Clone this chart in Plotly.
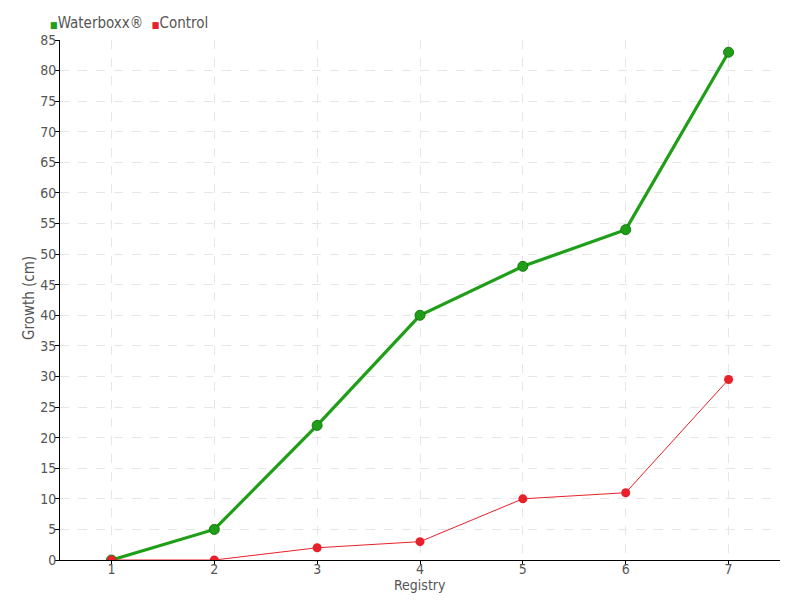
import plotly.graph_objects as go

registry = [1, 2, 3, 4, 5, 6, 7]
waterboxx = [0, 5, 22, 40, 48, 54, 83]
control = [0, 0, 2, 3, 10, 11, 29.5]
y_ticks = list(range(0, 90, 5))
series_names = ["Waterboxx®", "Control"]
x_title = "Registry"
y_title = "Growth (cm)"

GREEN = "#1f9e18"
RED = "#e8202a"
FONT = "Liberation Sans Narrow, DejaVu Sans Condensed, sans-serif"

fig = go.Figure()
fig.add_trace(go.Scatter(
    x=registry, y=waterboxx, mode="lines+markers", name=series_names[0], showlegend=False,
    line=dict(color=GREEN, width=3.2),
    marker=dict(color=GREEN, size=10, line=dict(color="#177a12", width=1)),
))
fig.add_trace(go.Scatter(
    x=registry, y=control, mode="lines+markers", name=series_names[1], showlegend=False,
    line=dict(color=RED, width=1),
    marker=dict(color=RED, size=9),
))

legend_text = (f"<span style='color:{GREEN};font-size:9px'>■</span>{series_names[0]}  "
               f"<span style='color:{RED};font-size:9px'>■</span>{series_names[1]}")
fig.add_annotation(text=legend_text, xref="paper", yref="paper", x=-0.017, y=1.0,
                   xanchor="left", yanchor="bottom", yshift=6, showarrow=False,
                   font=dict(family=FONT, size=15, color="#555555"))
# axis titles
fig.add_annotation(text=x_title, xref="paper", yref="paper", x=0.5, y=0,
                   xanchor="center", yanchor="middle", yshift=-25, showarrow=False,
                   font=dict(family=FONT, size=14, color="#555555"))
fig.add_annotation(text=y_title, xref="paper", yref="paper", x=0, y=0.5,
                   xanchor="center", yanchor="middle", xshift=-31, yshift=2,
                   textangle=-90, showarrow=False,
                   font=dict(family=FONT, size=15, color="#555555"))

fig.update_layout(
    width=800, height=600,
    margin=dict(l=60, r=20, t=40, b=40, autoexpand=False),
    plot_bgcolor="white", paper_bgcolor="white",
    font=dict(family=FONT, size=14, color="#555555"),
    showlegend=False,
    xaxis=dict(
        range=[0.5, 7.5], tickmode="array", tickvals=registry,
        showline=True, linecolor="black", linewidth=1,
        ticks="outside", ticklen=4, tickcolor="black", ticklabelstandoff=-8,
        tickfont=dict(size=14),
        showgrid=True, gridcolor="#e6e6e6", griddash="dash", gridwidth=1,
        zeroline=False, automargin=False,
    ),
    yaxis=dict(
        range=[0, 85], tickmode="array", tickvals=y_ticks,
        showline=True, linecolor="black", linewidth=1,
        ticks="outside", ticklen=4, tickcolor="black", ticklabelstandoff=-4,
        tickfont=dict(size=14),
        showgrid=True, gridcolor="#e6e6e6", griddash="dash", gridwidth=1,
        zeroline=False, automargin=False,
    ),
)

fig.write_html("out.html", config={"displayModeBar": False},
               post_script="document.body.style.margin='0';")
